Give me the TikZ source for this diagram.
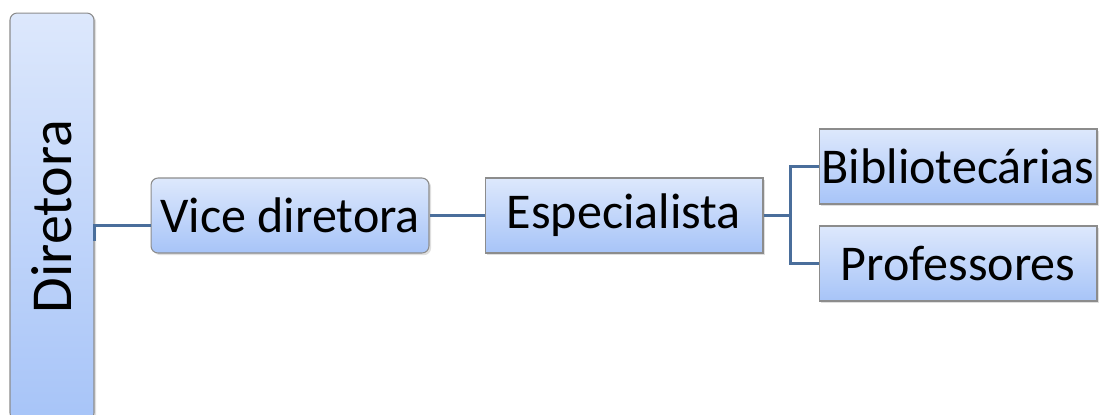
\documentclass[tikz,border=0pt]{standalone}
\usepackage{fontspec}
\setmainfont{Carlito}
\usepackage{tikz}
\usetikzlibrary{positioning, shadows}

\definecolor{boxtop}{HTML}{DDE8FC}
\definecolor{boxbot}{HTML}{A7C4F8}
\definecolor{boxline}{HTML}{8C8C8C}
\definecolor{linkcol}{HTML}{4A6E9B}

\begin{document}
\begin{tikzpicture}[
  x=0.02cm, y=-0.02cm,
  font=\fontsize{28.5}{33}\selectfont,
  box/.style={draw=boxline, line width=0.6pt, top color=boxtop, bottom color=boxbot,
              minimum width=5.56cm, minimum height=1.5cm, inner sep=0pt,
              drop shadow={opacity=0.25, shadow xshift=1.2pt, shadow yshift=-1.2pt}},
  roundbox/.style={box, rounded corners=4pt},
  link/.style={draw=linkcol, line width=1.2pt}
]
  \useasboundingbox (0,0) rectangle (1099,414);
  \begin{scope}
  \clip (0,0) rectangle (1099,414);
  \node[roundbox, minimum width=1.68cm, minimum height=8.14cm] (dir) at (52,216.5) {};
  \end{scope}
  \node[rotate=90, font=\fontsize{33}{38}\selectfont] at (dir.center) {Diretora};

  \node[roundbox] (vice) at (290,215.5) {Vice diretora};
  \node[box] (esp) at (624,215.5) {Especialista};
  \node[box] (bib) at (958,166.5) {Bibliotecárias};
  \node[box] (prof) at (958,263.5) {Professores};

  \draw[link] ([yshift=-0.2cm]vice.west) -- ([yshift=-0.2cm]vice.west -| dir.east) -- ++(0,-0.3cm);
  \draw[link] (vice) -- (esp);
  \draw[link] (esp.east) -- ++(0.54cm,0) |- (bib.west);
  \draw[link] (esp.east) -- ++(0.54cm,0) |- (prof.west);
\end{tikzpicture}
\end{document}
